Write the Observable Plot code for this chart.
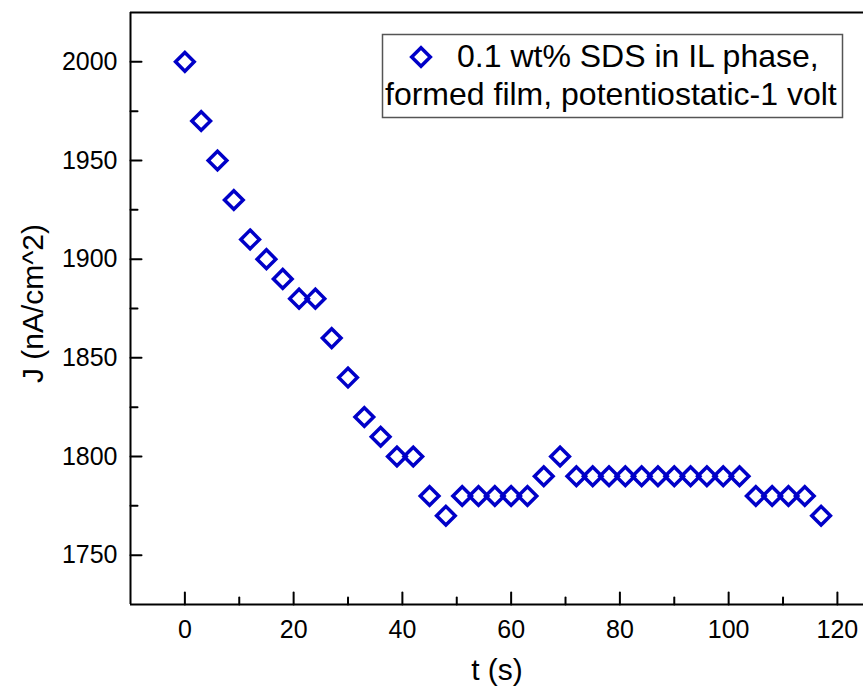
<!DOCTYPE html>
<html><head><meta charset="utf-8">
<script src="https://cdn.jsdelivr.net/npm/d3@7"></script>
<script src="https://cdn.jsdelivr.net/npm/@observablehq/plot@0.6"></script>
<style>
body{margin:0;background:#fff}
#wrap{position:relative;width:863px;height:688px;font-family:"Liberation Sans",Arial,sans-serif}
</style>
</head><body><div id="wrap"></div>
<script>
const timeS = [0,3,6,9,12,15,18,21,24,27,30,33,36,39,42,45,48,51,54,57,60,63,66,69,72,75,78,81,84,87,90,93,96,99,102,105,108,111,114,117];
const currentJ = [2000,1970,1950,1930,1910,1900,1890,1880,1880,1860,1840,1820,1810,1800,1800,1780,1770,1780,1780,1780,1780,1780,1790,1800,1790,1790,1790,1790,1790,1790,1790,1790,1790,1790,1790,1780,1780,1780,1780,1770];
const xMajorTicks = [0,20,40,60,80,100,120];
const xMinorTicks = [10,30,50,70,90,110];
const yMajorTicks = [1750,1800,1850,1900,1950,2000];
const yMinorTicks = [1775,1825,1875,1925,1975];
const seriesLabel = ["0.1 wt% SDS in IL phase,", "formed film, potentiostatic-1 volt"];
const xLabel = "t (s)";
const yLabel = "J (nA/cm^2)";

const data = timeS.map((t, i) => ({t, j: currentJ[i]}));
const blue = "#0000c8";
const markerR = 8.4;
const font = '"Liberation Sans", Arial, sans-serif';
const plain = d => String(d);
// straight line shape for inward tick marks
const tickShape = {draw(context, l) { context.moveTo(0, 0); context.lineTo(0, -l); }};

const chart = Plot.plot({
  width: 863, height: 688,
  marginLeft: 130, marginRight: 0, marginTop: 12, marginBottom: 84,
  style: {fontFamily: font, fontSize: "25px", color: "#000", background: "#fff"},
  x: {domain: [-10, 124.8]},
  y: {domain: [1725, 2025]},
  marks: [
    Plot.axisX({ticks: xMajorTicks, tickSize: 0, tickPadding: 16, fontSize: 25, tickFormat: plain, label: null}),
    Plot.axisY({ticks: yMajorTicks, tickSize: 0, tickPadding: 13, fontSize: 25, tickFormat: plain, label: null}),
    Plot.vector(xMajorTicks, {x: d => d, frameAnchor: "bottom", length: 12, rotate: 0, anchor: "start", shape: tickShape, stroke: "#000", strokeWidth: 2}),
    Plot.vector(xMinorTicks, {x: d => d, frameAnchor: "bottom", length: 7, rotate: 0, anchor: "start", shape: tickShape, stroke: "#000", strokeWidth: 2}),
    Plot.vector(yMajorTicks, {y: d => d, frameAnchor: "left", length: 11, rotate: 90, anchor: "start", shape: tickShape, stroke: "#000", strokeWidth: 2}),
    Plot.vector(yMinorTicks, {y: d => d, frameAnchor: "left", length: 7, rotate: 90, anchor: "start", shape: tickShape, stroke: "#000", strokeWidth: 2}),
    Plot.ruleX([-10], {strokeWidth: 2}),
    Plot.ruleY([1725], {strokeWidth: 2}),
    Plot.ruleY([2025], {strokeWidth: 2}),
    Plot.dot(data, {x: "t", y: "j", symbol: "diamond2", r: markerR, stroke: blue, fill: "none", strokeWidth: 3.5}),
    Plot.text([xLabel], {text: d => d, frameAnchor: "bottom", textAnchor: "middle", lineAnchor: "middle", dy: 66, fontSize: 30}),
    Plot.text([yLabel], {text: d => d, frameAnchor: "left", textAnchor: "middle", lineAnchor: "middle", dx: -97, dy: -5, rotate: -90, fontSize: 30})
  ]
});
const wrap = document.getElementById("wrap");
wrap.appendChild(chart);

const leg = d3.select(wrap).append("svg")
  .attr("width", 863).attr("height", 688)
  .style("position", "absolute").style("left", "0px").style("top", "0px")
  .style("pointer-events", "none")
  .attr("font-family", font);
leg.append("rect").attr("x", 382.5).attr("y", 34.5).attr("width", 460).attr("height", 83)
  .attr("fill", "#fff").attr("stroke", "#555").attr("stroke-width", 1.5);
leg.append("path").attr("d", d3.symbol(d3.symbolDiamond2, markerR * markerR * Math.PI)())
  .attr("transform", "translate(421,57)").attr("fill", "none").attr("stroke", blue).attr("stroke-width", 3.5);
leg.append("text").attr("x", 457).attr("y", 67).attr("font-size", 32).attr("fill", "#000").text(seriesLabel[0]);
leg.append("text").attr("x", 385).attr("y", 105).attr("font-size", 32).attr("fill", "#000").text(seriesLabel[1]);
</script>
</body></html>
